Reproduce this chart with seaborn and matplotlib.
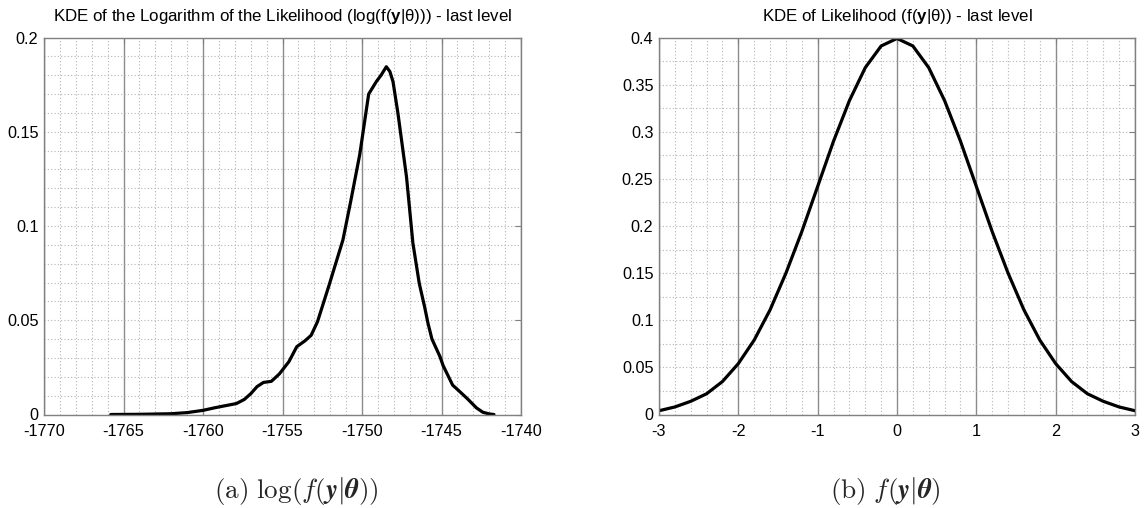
import matplotlib
matplotlib.use("Agg")
import matplotlib.pyplot as plt
from matplotlib.ticker import MultipleLocator, FuncFormatter
import seaborn as sns

# Kernel density of the log-likelihood at the last level
loglik_x = [-1765.8, -1764.0, -1762.0, -1761.0, -1760.0, -1759.3, -1758.7, -1757.9,
            -1757.4, -1757.0, -1756.6, -1756.2, -1755.7, -1755.2, -1754.6, -1754.1,
            -1753.6, -1753.2, -1752.8, -1752.1, -1751.2, -1750.7, -1750.14, -1749.58,
            -1749.1, -1748.8, -1748.47, -1748.25, -1748.05, -1747.74, -1747.2, -1746.8,
            -1746.4, -1746.06, -1745.85, -1745.6, -1745.1, -1744.9, -1744.3, -1743.96,
            -1743.4, -1742.8, -1742.4, -1742.0, -1741.7]
loglik_density = [0.0000, 0.0001, 0.0004, 0.0010, 0.0022, 0.0035, 0.0045, 0.0058,
                  0.0080, 0.0110, 0.0148, 0.0170, 0.0176, 0.0215, 0.0280, 0.0360,
                  0.0390, 0.0420, 0.0492, 0.0678, 0.0926, 0.1135, 0.1380, 0.1700,
                  0.1766, 0.1800, 0.1845, 0.1820, 0.1766, 0.1598, 0.1260, 0.0910,
                  0.0696, 0.0570, 0.0484, 0.0400, 0.0308, 0.0260, 0.0156, 0.0130,
                  0.0086, 0.0035, 0.0012, 0.0003, 0.0000]

# Kernel density of the likelihood at the last level
lik_x = [-3.0, -2.8, -2.6, -2.4, -2.2, -2.0, -1.8, -1.6, -1.4, -1.2, -1.0,
         -0.8, -0.6, -0.4, -0.2, 0.0, 0.2, 0.4, 0.6, 0.8, 1.0,
         1.2, 1.4, 1.6, 1.8, 2.0, 2.2, 2.4, 2.6, 2.8, 3.0]
lik_density = [0.004, 0.008, 0.014, 0.022, 0.035, 0.054, 0.079, 0.111, 0.150, 0.194, 0.242,
               0.290, 0.333, 0.368, 0.391, 0.399, 0.391, 0.368, 0.333, 0.290, 0.242,
               0.194, 0.150, 0.111, 0.079, 0.054, 0.035, 0.022, 0.014, 0.008, 0.004]

titles = ["KDE of the Logarithm of the Likelihood (log(f($\\mathbf{y}$|θ))) - last level",
          "KDE of Likelihood (f($\\mathbf{y}$|θ)) - last level"]
captions = [r"$\mathrm{(a)}\ \log(f(\mathbfit{y}|\mathbfit{\theta}))$",
            r"$\mathrm{(b)}\ f(\mathbfit{y}|\mathbfit{\theta})$"]

sns.set_style("white")
plt.rcParams.update({
    "font.family": ["Liberation Sans", "DejaVu Sans"],
    "axes.unicode_minus": False,
    "mathtext.fontset": "custom",
    "mathtext.rm": "Liberation Sans",
    "mathtext.bf": "Liberation Sans:bold",
    "mathtext.it": "Liberation Sans:italic",
})

fig = plt.figure(figsize=(11.44, 5.08), dpi=100)
ax1 = fig.add_axes([44 / 1144, 93.5 / 508, 477 / 1144, 377 / 508])
ax2 = fig.add_axes([659 / 1144, 93.5 / 508, 476 / 1144, 377 / 508])

fmt = FuncFormatter(lambda v, pos: "%g" % round(v, 6))


def style_axes(ax, xlim, ylim, xmajor, xminor, ymajor, yminor, title):
    ax.set_xlim(*xlim)
    ax.set_ylim(*ylim)
    ax.xaxis.set_major_locator(MultipleLocator(xmajor))
    ax.xaxis.set_minor_locator(MultipleLocator(xminor))
    ax.yaxis.set_major_locator(MultipleLocator(ymajor))
    ax.yaxis.set_minor_locator(MultipleLocator(yminor))
    ax.xaxis.set_major_formatter(fmt)
    ax.yaxis.set_major_formatter(fmt)
    ax.set_axisbelow(True)
    ax.grid(True, which="minor", axis="both", linestyle=(0, (1, 2)),
            color="#b5b5b5", linewidth=0.8)
    ax.grid(True, which="major", axis="y", linestyle=(0, (1, 2)),
            color="#b5b5b5", linewidth=0.8)
    ax.grid(True, which="major", axis="x", linestyle="-",
            color="#8c8c8c", linewidth=1.0)
    ax.tick_params(which="major", direction="in", length=4, width=0.8,
                   top=True, right=True, color="#808080",
                   labelsize=11.7, labelcolor="black", pad=4)
    ax.tick_params(axis="x", which="major", pad=7)
    ax.tick_params(which="minor", length=0)
    for sp in ax.spines.values():
        sp.set_color("#808080")
        sp.set_linewidth(1.0)
    ax.set_xlabel("")
    ax.set_ylabel("")
    ax.set_title(title, fontsize=12.2, pad=12, color="black")


sns.lineplot(x=loglik_x, y=loglik_density, ax=ax1, color="black", linewidth=2.3)
sns.lineplot(x=lik_x, y=lik_density, ax=ax2, color="black", linewidth=2.3)

style_axes(ax1, (-1770, -1740), (0, 0.2), 5, 1, 0.05, 0.01, titles[0])
style_axes(ax2, (-3, 3), (0, 0.4), 1, 0.2, 0.05, 0.025, titles[1])

fig.text(296 / 1144, 1 - 491 / 508, captions[0], ha="center", va="center",
         fontsize=19.5, math_fontfamily="cm")
fig.text(885 / 1144, 1 - 491 / 508, captions[1], ha="center", va="center",
         fontsize=19.5, math_fontfamily="cm")

fig.savefig("out.png", dpi=100)
